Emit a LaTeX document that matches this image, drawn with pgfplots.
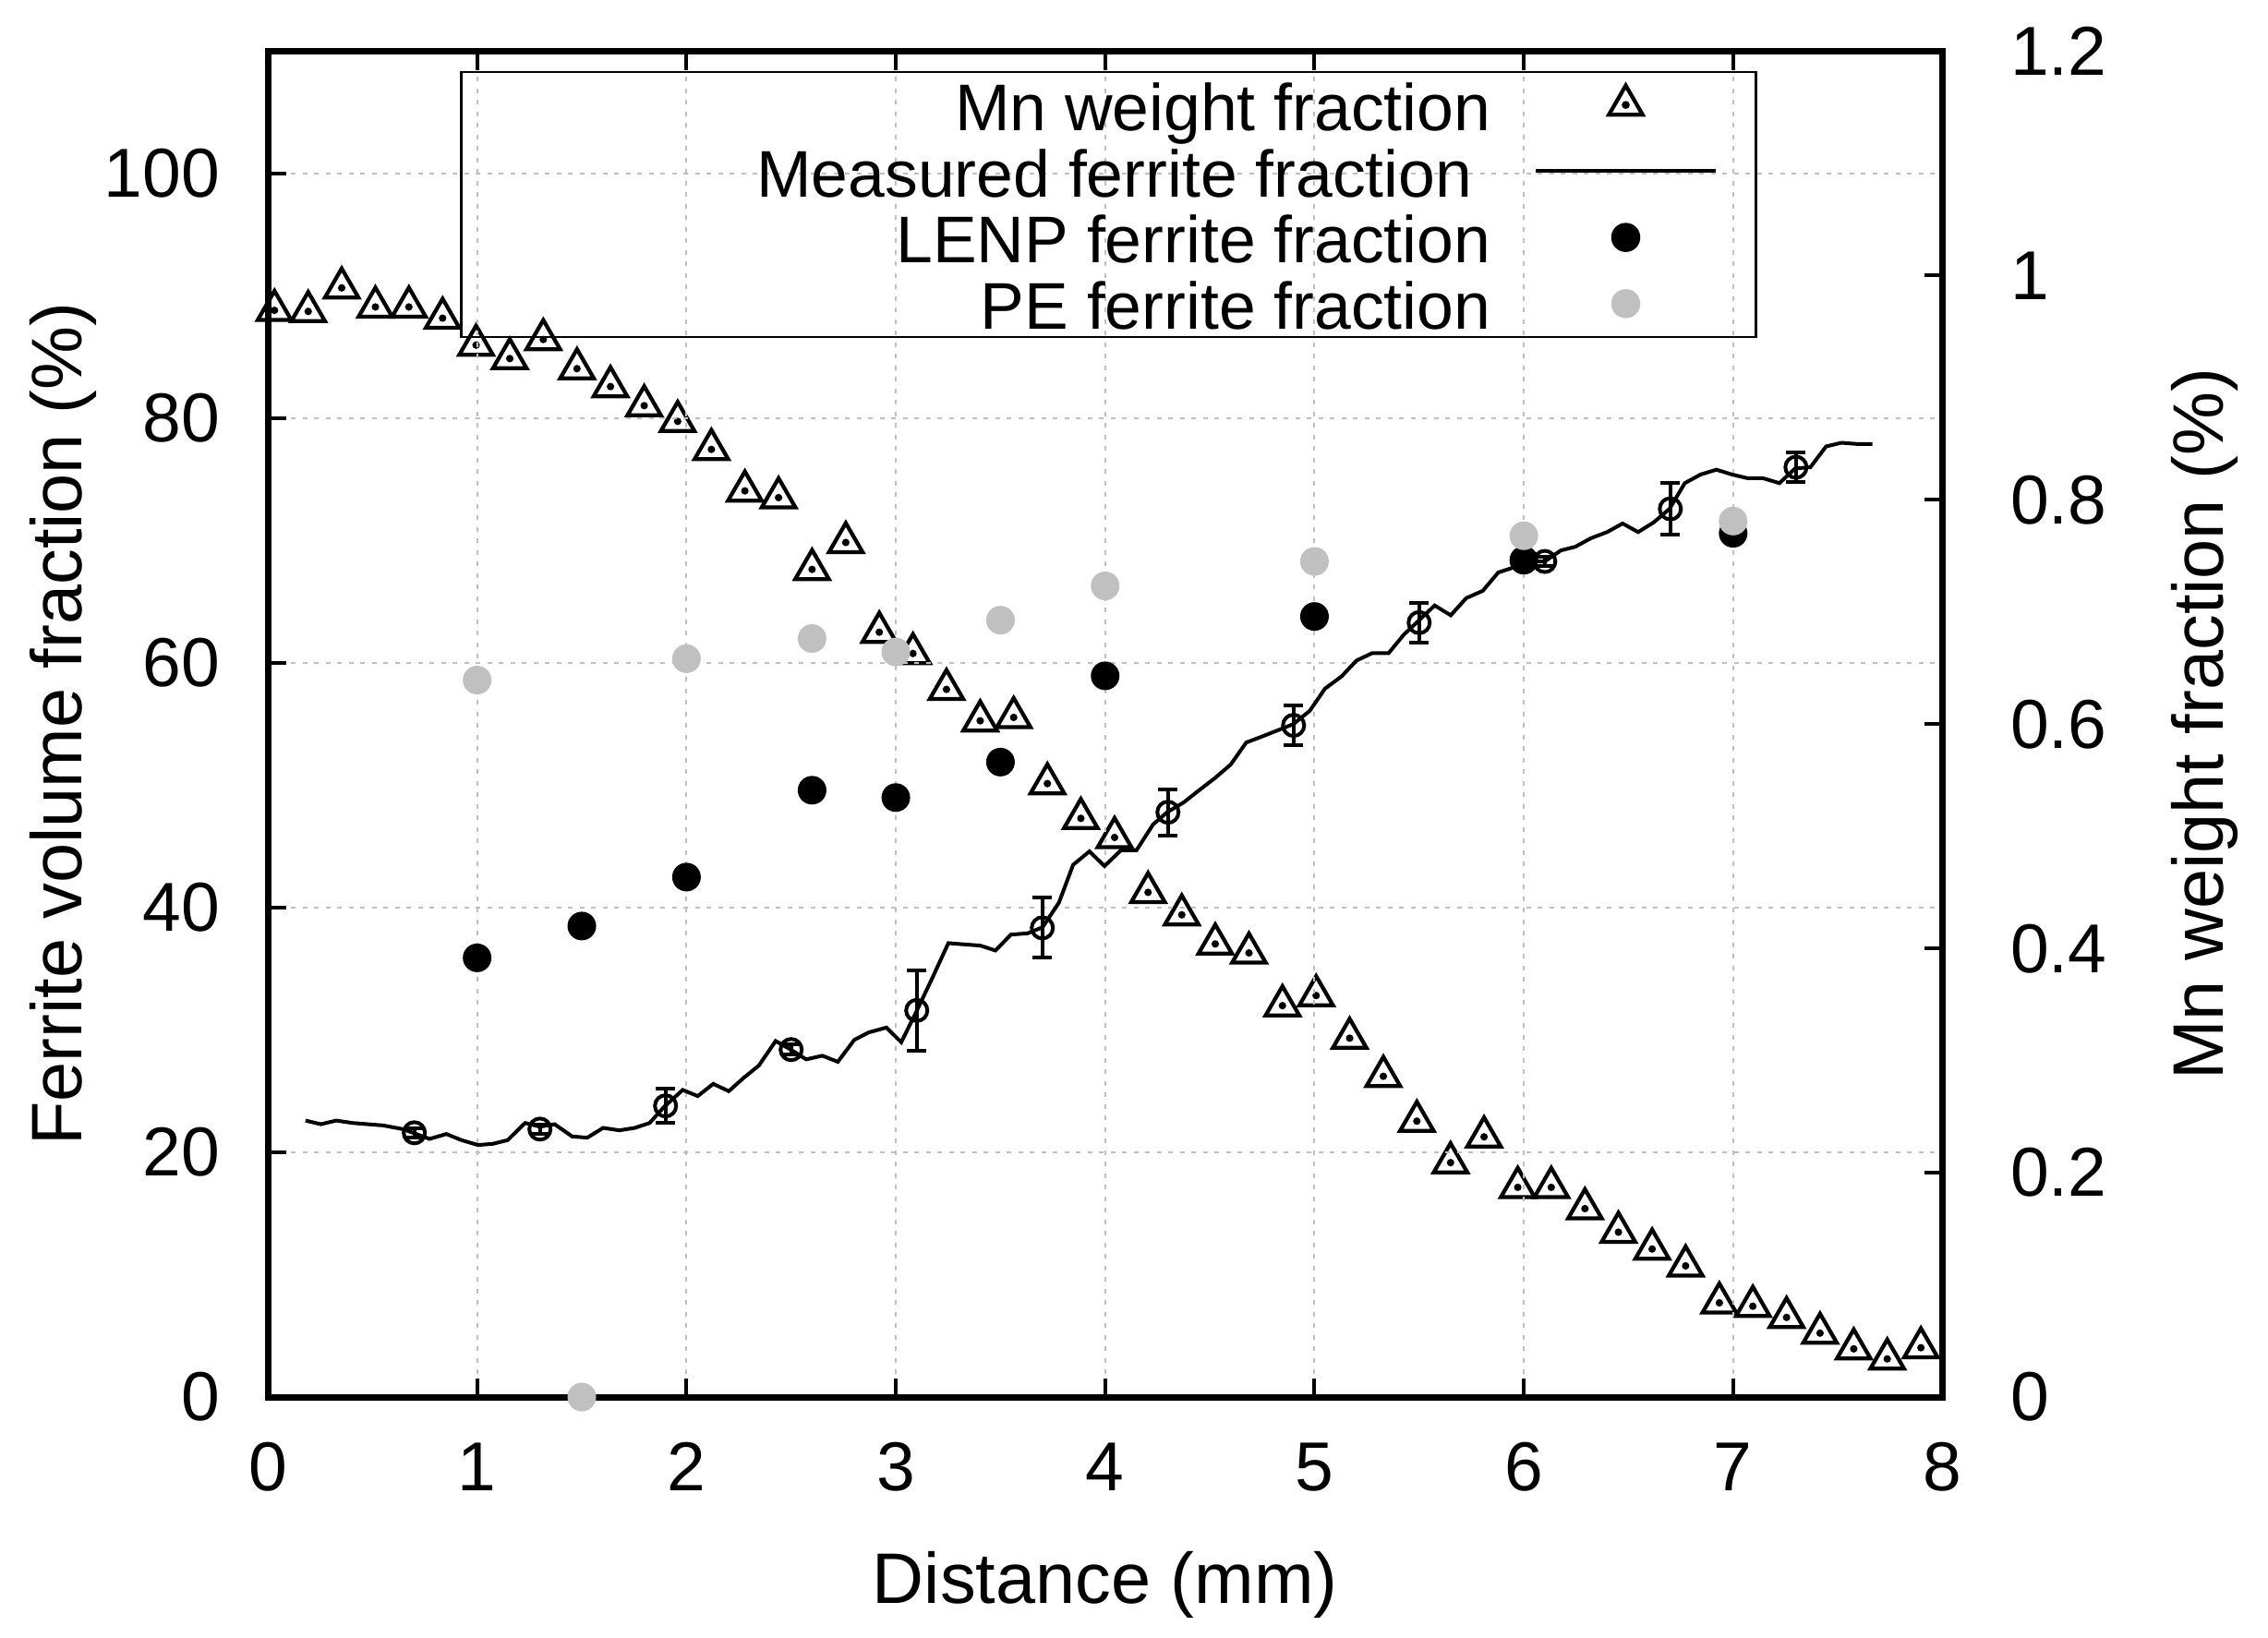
\documentclass[border=0pt]{standalone}
\usepackage{fontspec}
\setmainfont{Liberation Sans}
\usepackage{pgfplots}
\pgfplotsset{compat=1.18}
\usepackage{pgfplotstable}

\definecolor{pegray}{RGB}{192,192,192}

\pgfplotstableread{
x y
0.032 0.969
0.193 0.968
0.353 0.989
0.514 0.972
0.674 0.972
0.835 0.962
0.995 0.938
1.156 0.926
1.316 0.943
1.477 0.917
1.637 0.901
1.798 0.884
1.958 0.870
2.119 0.845
2.279 0.808
2.440 0.802
2.600 0.738
2.761 0.762
2.921 0.682
3.082 0.663
3.242 0.631
3.403 0.603
3.563 0.606
3.724 0.547
3.884 0.516
4.045 0.499
4.205 0.450
4.366 0.430
4.526 0.404
4.687 0.396
4.847 0.349
5.008 0.358
5.168 0.320
5.329 0.286
5.489 0.246
5.650 0.209
5.810 0.232
5.971 0.187
6.131 0.187
6.292 0.168
6.452 0.147
6.613 0.132
6.773 0.117
6.934 0.084
7.094 0.081
7.255 0.071
7.415 0.057
7.576 0.043
7.736 0.034
7.897 0.044
}\mndata

\pgfplotstableread{
x y
0.180 22.6
0.253 22.3
0.327 22.6
0.405 22.4
0.478 22.3
0.551 22.2
0.645 21.9
0.773 21.1
0.853 21.5
0.925 21.0
1.004 20.6
1.076 20.7
1.146 21.0
1.229 22.4
1.300 22.1
1.370 22.3
1.454 21.3
1.526 21.2
1.602 22.0
1.679 21.8
1.753 22.0
1.824 22.4
1.892 23.7
1.982 25.1
2.054 24.6
2.128 25.6
2.202 25.0
2.274 26.1
2.346 27.1
2.426 29.1
2.498 28.4
2.572 27.6
2.649 27.9
2.723 27.4
2.802 29.2
2.870 29.8
2.955 30.2
3.026 29.0
3.098 31.5
3.173 34.2
3.251 37.1
3.325 37.0
3.404 36.9
3.476 36.5
3.550 37.8
3.629 37.9
3.701 38.4
3.779 40.4
3.847 43.5
3.925 44.6
3.997 43.4
4.076 44.7
4.150 44.7
4.229 46.8
4.296 47.8
4.375 48.6
4.449 49.6
4.525 50.6
4.600 51.7
4.674 53.5
4.751 54.0
4.825 54.5
4.899 55.0
4.978 56.1
5.050 57.9
5.129 58.9
5.201 60.2
5.275 60.8
5.354 60.8
5.426 62.3
5.500 63.5
5.574 64.7
5.651 63.9
5.725 65.3
5.804 65.9
5.878 67.4
5.950 67.8
5.999 68.3
6.070 68.3
6.100 68.3
6.177 69.2
6.246 69.5
6.321 70.2
6.398 70.7
6.472 71.4
6.546 70.7
6.621 71.5
6.696 72.6
6.769 74.7
6.844 75.4
6.920 75.8
6.995 75.4
7.070 75.1
7.143 75.1
7.221 74.7
7.296 75.9
7.369 76.0
7.444 77.7
7.517 78.0
7.592 77.9
7.665 77.9
}\linedata

\pgfplotstableread{
x y e
0.70 21.6 0.4
1.30 21.9 0.4
1.90 23.8 1.4
2.50 28.4 0.4
3.10 31.6 3.3
3.70 38.35 2.45
4.30 47.8 1.9
4.90 54.9 1.6
5.50 63.3 1.6
6.10 68.3 0.4
6.70 72.6 2.1
7.30 76.0 1.2
}\errdata

\pgfplotstableread{
x y
1.0 35.9
1.5 38.5
2.0 42.5
2.6 49.6
3.0 49.0
3.5 51.9
4.0 58.95
5.0 63.8
6.0 68.4
7.0 70.6
}\lenpdata

\pgfplotstableread{
x y
1.0 58.6
1.5 0.0
2.0 60.35
2.6 62.0
3.0 60.9
3.5 63.5
4.0 66.3
5.0 68.3
6.0 70.4
7.0 71.6
}\pedata

\pgfplotsset{
  common/.style={
    width=362.7pt, height=291.5pt, scale only axis,
    at={(0pt,0pt)}, anchor=south west,
    xmin=0, xmax=8,
    axis line style={line width=1.4pt},
    tick style={line width=0.8pt, black},
    major tick length=4pt,
    /pgf/number format/assume math mode=true,
    tick label style={font=\fontsize{15}{18}\selectfont},
  }
}

\begin{document}
\begin{tikzpicture}
\path (-58pt,-52pt) rectangle (433.2pt,302.6pt);

% right axis: Mn weight fraction
\begin{axis}[common,
  ymin=0, ymax=1.2,
  axis x line=none,
  axis y line*=right,
  tick align=inside,
  ytick={0,0.2,0.4,0.6,0.8,1,1.2},
  yticklabel style={anchor=west, inner sep=0pt, xshift=14.5pt},
  ylabel={Mn weight fraction (\%)},
  every axis y label/.style={at={(axis description cs:1.1676,0.5)}, anchor=base, rotate=90, font=\fontsize{15.5}{18}\selectfont},
  clip=false,
]
\addplot[only marks, mark=triangle, mark size=4.2pt, mark options={line width=0.85pt, draw=black, fill=none}] table[x=x,y=y] {\mndata};
\addplot[only marks, mark=*, mark size=0.6pt, mark options={draw=black, fill=black}] table[x=x,y=y] {\mndata};
\end{axis}

% left axis: ferrite fraction
\begin{axis}[common,
  ymin=0, ymax=110,
  xtick={0,1,2,3,4,5,6,7,8},
  ytick={0,20,40,60,80,100},
  xtick pos=both, ytick pos=left,
  tick align=inside,
  grid=major,
  grid style={dash pattern=on 1pt off 1.5pt, line width=0.4pt, black!25},
  xticklabel style={anchor=north, inner sep=0pt, yshift=-9.7pt},
  yticklabel style={anchor=east, inner sep=0pt, xshift=-10.2pt},
  xlabel={Distance (mm)},
  ylabel={Ferrite volume fraction (\%)},
  every axis x label/.style={at={(axis description cs:0.5,-0.1533)}, anchor=base, font=\fontsize{15.5}{18}\selectfont},
  every axis y label/.style={at={(axis description cs:-0.1111,0.5)}, anchor=base, rotate=90, font=\fontsize{15.5}{18}\selectfont},
  legend plot pos=right,
  legend style={at={(axis description cs:0.1147,0.9856)}, anchor=north west,
    draw=black, line width=0.5pt, fill=none,
    inner xsep=8.3pt, inner ysep=0pt, column sep=9.4pt,
    nodes={inner sep=0pt, text height=12.7pt, text depth=1.65pt},
    font=\fontsize{14.3}{17}\selectfont},
]
\addlegendimage{legend image code/.code={
  \path (0pt,0pt) (38.9pt,0pt);
  \draw[mark=triangle, mark size=4.2pt, mark options={line width=0.85pt, draw=black, fill=none}] plot coordinates {(19.45pt,0pt)};
  \fill[black] (19.45pt,0pt) circle (0.6pt);
}}
\addlegendentry{\makebox[214.7pt][r]{Mn weight fraction}}

\addplot[black, line width=0.8pt, mark=none,
  legend image code/.code={\draw[black, line width=0.8pt] (0pt,0pt) -- (38.9pt,0pt);}]
  table[x=x,y=y] {\linedata};
\addlegendentry{\makebox[214.7pt][r]{Measured ferrite fraction\hspace{4pt}}}

\addplot[forget plot, only marks, mark=o, mark size=2.3pt, mark options={line width=0.8pt, draw=black},
  error bars/.cd, y dir=both, y explicit,
  error bar style={line width=0.8pt, black},
  error mark options={line width=0.8pt, mark size=2.1pt, rotate=90}]
  table[x=x,y=y,y error=e] {\errdata};

\addplot[only marks, mark=*, mark size=2.9pt, mark options={draw=black, fill=black},
  legend image code/.code={
    \path (0pt,0pt) (38.9pt,0pt);
    \fill[black] (19.45pt,0pt) circle (2.9pt);}]
  table[x=x,y=y] {\lenpdata};
\addlegendentry{\makebox[214.7pt][r]{LENP ferrite fraction}}

\addplot[only marks, mark=*, mark size=2.9pt, mark options={draw=pegray, fill=pegray},
  legend image code/.code={
    \path (0pt,0pt) (38.9pt,0pt);
    \fill[pegray] (19.45pt,0pt) circle (2.9pt);}]
  table[x=x,y=y] {\pedata};
\addlegendentry{\makebox[214.7pt][r]{PE ferrite fraction}}
\end{axis}
\end{tikzpicture}
\end{document}
